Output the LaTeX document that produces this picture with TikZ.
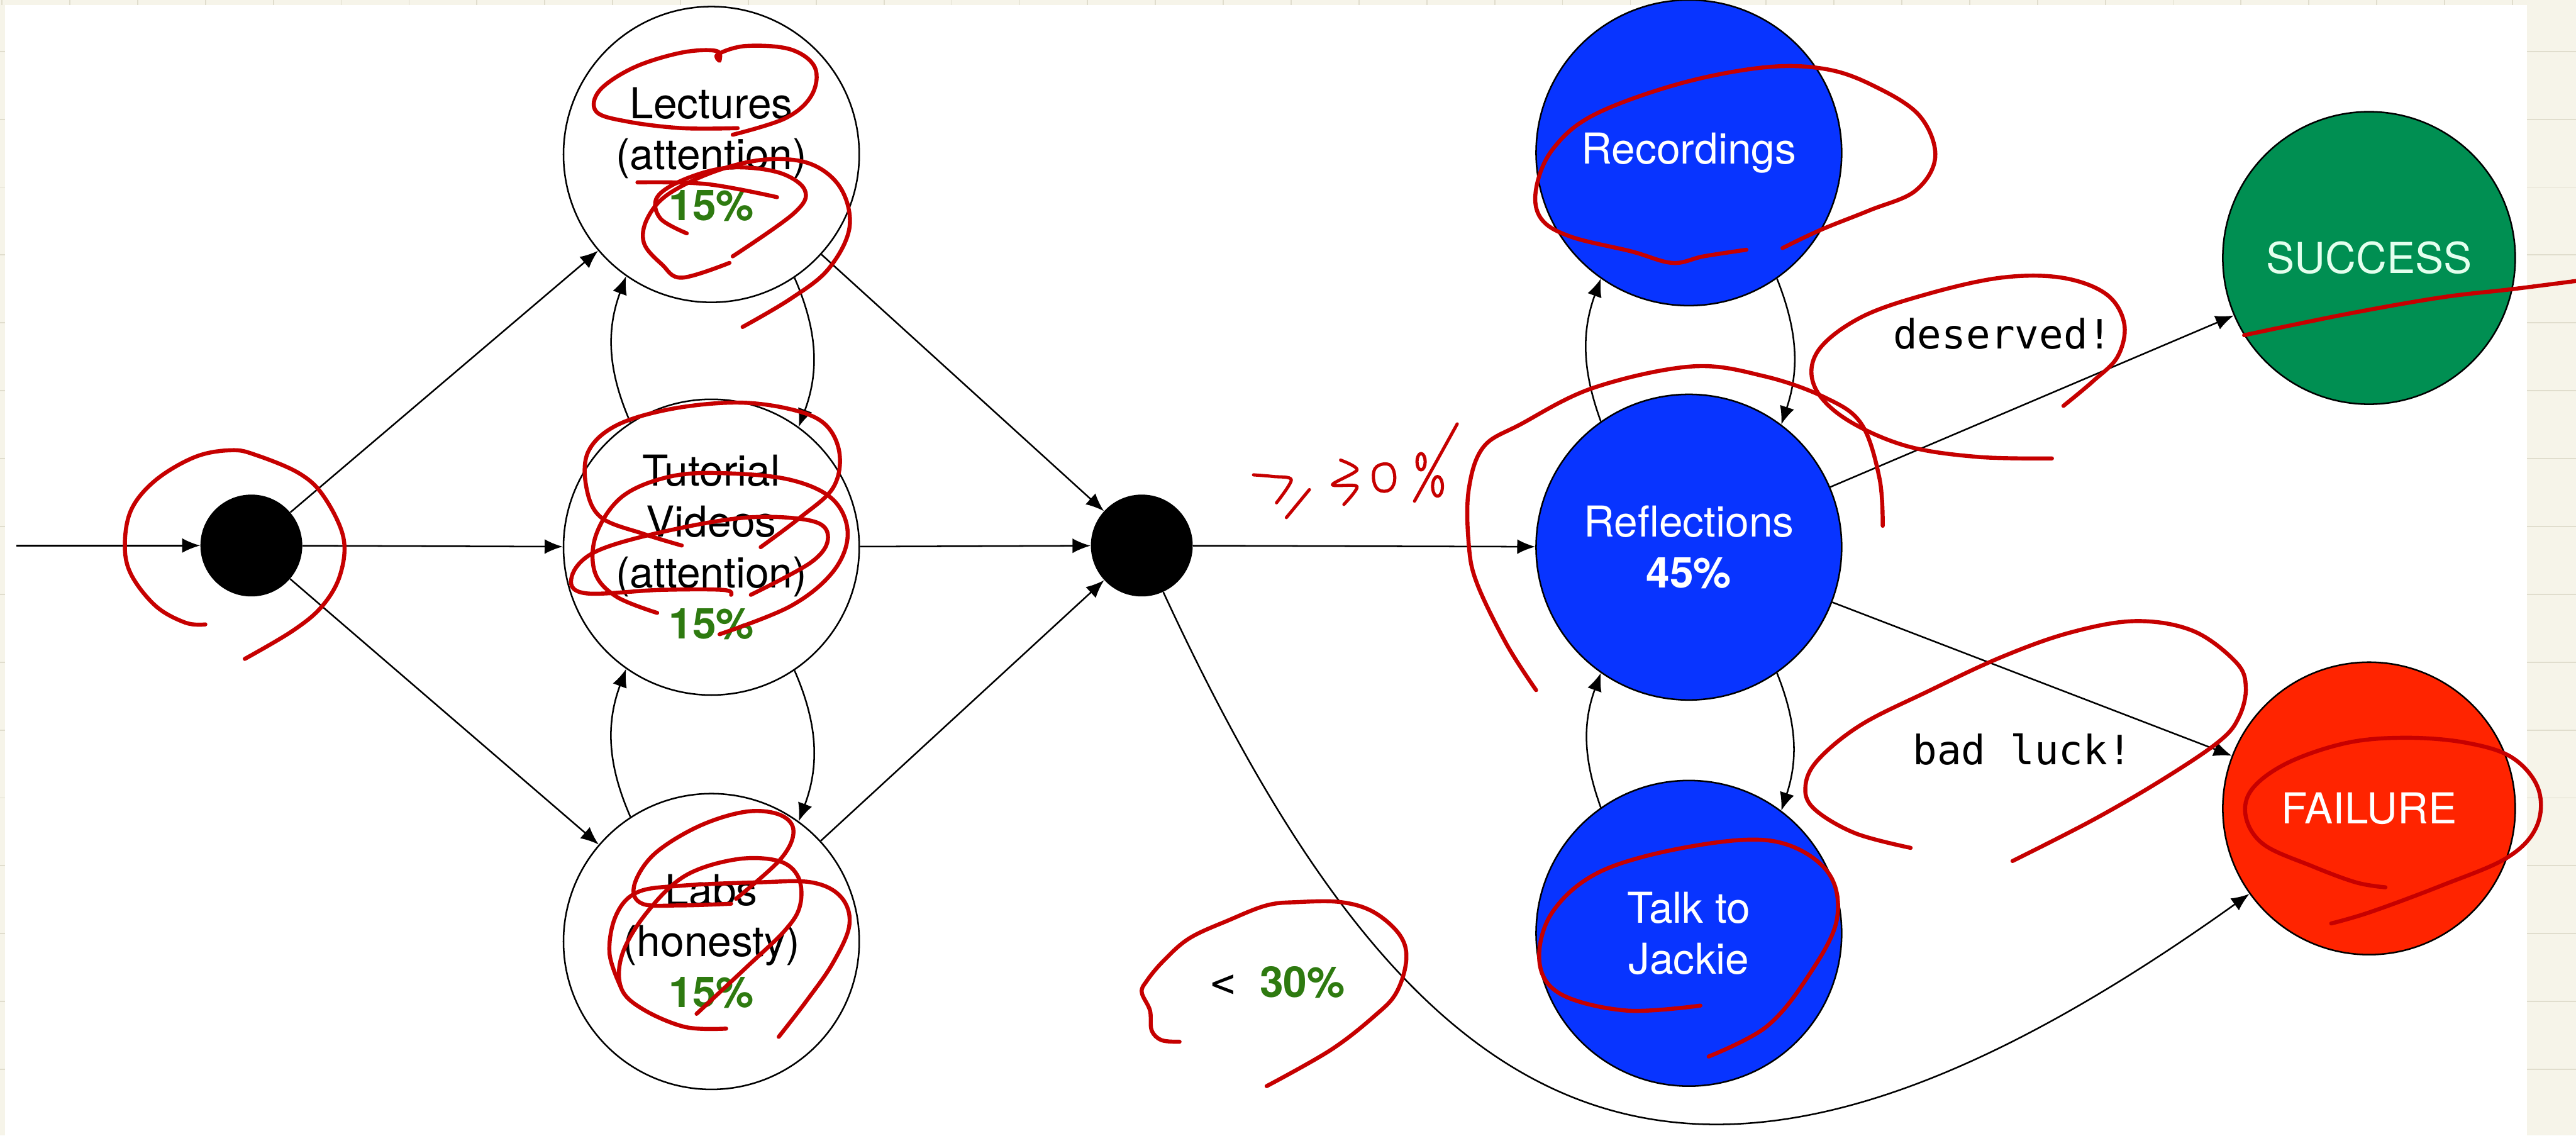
\documentclass[tikz,border=0pt]{standalone}
\usepackage{fontspec}
\usepackage{tikz}
\usetikzlibrary{arrows.meta, positioning, calc}

\newfontfamily\helv{TeX Gyre Heros}
\newfontfamily\codefont{DejaVu Sans Mono}

\definecolor{paper}{RGB}{246,244,233}
\definecolor{paperline}{RGB}{224,221,205}
\definecolor{stateblue}{RGB}{8,52,255}
\definecolor{successgreen}{RGB}{0,143,82}
\definecolor{failred}{RGB}{255,36,0}
\definecolor{pctgreen}{RGB}{46,122,16}
\definecolor{mintwhite}{RGB}{228,255,238}
\definecolor{pen}{RGB}{198,0,0}

\tikzset{
  state/.style={circle, draw=black, line width=1.1pt, fill=white, minimum size=72mm,
    inner sep=0pt, align=center, font=\helv\fontsize{29.5}{35.3}\selectfont},
  bluestate/.style={state, fill=stateblue, text=white, minimum size=74.4mm},
  endstate/.style={state, minimum size=71.2mm},
  dot/.style={circle, fill=black, minimum size=24.8mm, inner sep=0pt},
  arr/.style={-{Latex[length=4.4mm, width=3.6mm]}, line width=1.1pt},
  lbl/.style={font=\codefont\fontsize{28}{34}\selectfont},
  scribble/.style={pen, line width=2.8pt, line cap=round, line join=round},
}
\newcommand{\greenpct}[1]{{\color{pctgreen}\bfseries #1\%}}

\begin{document}
\begin{tikzpicture}[x=0.4mm, y=-0.4mm]
  \useasboundingbox (0,0) rectangle (1568,691);

  % Notebook paper behind the sheet
  \fill[paper] (0,0) rectangle (1568,691);
  \foreach \k in {0,...,16}
    \draw[paperline, line width=0.8pt] (1538,{31.3+41.3*\k}) -- (1568,{31.3+41.3*\k});
  \foreach \k in {0,...,16}
    \draw[paperline, line width=0.8pt] (0,{31.3+41.3*\k}) -- (3,{31.3+41.3*\k});
  \foreach \k in {0,...,37}
    \draw[paperline, line width=0.8pt] ({1.2+41.3*\k},0) -- ({1.2+41.3*\k},3);
  \fill[white] (3,3) rectangle (1538,691);

  % Entry and the three activities
  \coordinate (in) at (10,332);
  \node[dot] (start) at (153,332) {};
  \node[state] (lec) at (433,94) {Lectures\\(attention)\\\greenpct{15}};
  \node[state] (tut) at (433,333) {Tutorial\\Videos\\(attention)\\\greenpct{15}};
  \node[state] (lab) at (433,573) {Labs\\(honesty)\\\greenpct{15}};
  \node[dot] (mid) at (695,332) {};

  % Second stage
  \node[bluestate] (rec) at (1028,93) {Recordings};
  \node[bluestate] (refl) at (1028,333) {Reflections\\{\bfseries 45\%}};
  \node[bluestate] (talk) at (1028,568) {Talk to\\Jackie};

  % Outcomes
  \node[endstate, fill=successgreen, text=mintwhite] (succ) at (1442,157) {SUCCESS};
  \node[endstate, fill=failred, text=white] (fail) at (1442,492) {FAILURE};

  % Connectors
  \draw[arr] (in) -- (start);
  \draw[arr] (start) -- (lec);
  \draw[arr] (start) -- (tut);
  \draw[arr] (start) -- (lab);
  \draw[arr] (lec) -- (mid);
  \draw[arr] (tut) -- (mid);
  \draw[arr] (lab) -- (mid);
  \draw[arr] (tut.123) to[bend left=22] (lec.235);
  \draw[arr] (lec.-56) to[bend left=22] (tut.54);
  \draw[arr] (lab.123) to[bend left=22] (tut.235);
  \draw[arr] (tut.-56) to[bend left=22] (lab.54);
  \draw[arr] (mid) -- (refl);
  \draw[arr] (mid) .. controls (866,702) and (1029,787) .. (fail);
  \draw[arr] (refl.125) to[bend left=20] (rec.235);
  \draw[arr] (rec.-55) to[bend left=20] (refl.53);
  \draw[arr] (talk.125) to[bend left=20] (refl.235);
  \draw[arr] (refl.-55) to[bend left=20] (talk.53);
  \draw[arr] (refl) -- (succ);
  \draw[arr] (refl) -- (fail);

  % Labels
  \node[lbl] (deserved) at (1219,203) {deserved!};
  \node[lbl] (badluck) at (1231,456) {bad luck!};
  \node[anchor=base west, inner sep=0pt] (cutoff) at (737,607)
    {{\codefont\fontsize{28}{34}\selectfont <\ }{\helv\fontsize{29.5}{35.3}\selectfont\greenpct{30}}};

  % Red pen marks
  \draw[scribble] plot[smooth, tension=0.6] coordinates {(125,380) (113,379) (95,369) (80,350) (76,332) (80,310) (95,292) (119,278) (141,274) (156,277) (182,288) (197,302) (209,327) (207,350) (196,369) (178,384) (149,401)};
  \draw[scribble] plot[smooth, tension=0.6] coordinates {(449,78) (415,78) (382,74) (363,68) (365,55) (386,41) (415,32) (436,31) (438,37) (437,33) (454,28) (481,30) (496,41) (494,58) (478,72) (446,82)};
  \draw[scribble] plot[smooth, tension=0.6] coordinates {(388,111) (430,112) (473,120)};
  \draw[scribble] plot[smooth, tension=0.6] coordinates {(418,142) (402,133) (400,120) (417,109) (444,102) (474,105) (490,116) (483,130) (446,156)};
  \draw[scribble] plot[smooth, tension=0.6] coordinates {(444,160) (415,169) (403,161) (392,148) (394,133) (407,118) (436,104) (467,97) (494,100) (512,115) (517,139) (504,164) (481,182) (452,199)};
  \draw[scribble] plot[smooth, tension=0.6] coordinates {(415,332) (392,325) (366,315) (357,297) (358,275) (375,259) (408,249) (448,245) (481,249) (502,258) (511,276) (507,297) (487,315) (463,333)};
  \draw[scribble] plot[smooth, tension=0.6] coordinates {(400,373) (375,363) (362,348) (363,325) (379,302) (408,290) (441,288) (481,292) (507,304) (516,325) (507,348) (481,369) (438,386)};
  \draw[scribble] plot[smooth, tension=0.6] coordinates {(445,362) (440,359) (402,359) (356,361) (348,351) (362,336) (402,324) (454,315) (494,317) (504,327) (494,342) (457,362)};
  \draw[scribble] plot[smooth, tension=0.6] coordinates {(445,550) (415,551) (391,550) (386,539) (398,520) (425,503) (454,494) (475,496) (483,506) (475,523) (448,547)};
  \draw[scribble] plot[smooth, tension=0.6] coordinates {(442,626) (417,625) (391,614) (378,601) (379,580) (394,555) (417,533) (448,523) (474,524) (486,534) (487,551) (478,566) (454,589) (424,617)};
  \draw[scribble] plot[smooth, tension=0.6] coordinates {(378,601) (371,580) (375,557) (388,543) (415,539) (461,537) (494,537) (512,546) (517,563) (507,586) (491,609) (474,631)};
  \draw[scribble] plot[smooth, tension=0.6] coordinates {(718,634) (707,633) (701,627) (700,615) (695,604) (698,597) (708,585) (724,571) (748,560) (771,551) (790,549) (816,549) (836,555) (852,569) (856,584) (850,604) (837,618) (810,639) (771,661)};
  % handwritten >30%
  \draw[scribble, line width=2.2pt] plot[smooth, tension=0.5] coordinates {(763,289) (775,290) (786,292) (777,306)};
  \draw[scribble, line width=2.2pt] (783,315) -- (797,298);
  \draw[scribble, line width=2.2pt] plot[smooth, tension=0.5] coordinates {(816,280) (826,286) (811,295) (826,296) (818,307)};
  \draw[scribble, line width=2.2pt] plot[smooth cycle, tension=0.7] coordinates {(838,284) (846,283) (849,291) (846,298) (839,298) (836,291)};
  \draw[scribble, line width=2.2pt] (861,305) -- (887,258);
  \draw[scribble, line width=2.2pt] (865,281) ellipse (2.5 and 5);
  \draw[scribble, line width=2.2pt] (875,296) ellipse (3 and 6);
  % second stage marks
  \draw[scribble] plot[smooth, tension=0.6] coordinates {(1063,152) (1037,156) (1018,160) (993,153) (956,144) (938,133) (935,115) (945,91) (970,70) (1022,51) (1074,41) (1111,42) (1140,52) (1168,70) (1178,95) (1166,116) (1138,128) (1108,140) (1085,151)};
  \draw[scribble] plot[smooth, tension=0.6] coordinates {(935,420) (917,392) (899,355) (894,331) (894,298) (903,272) (926,258) (970,236) (1030,223) (1074,229) (1111,242) (1133,258) (1144,291) (1146,320)};
  \draw[scribble] plot[smooth, tension=0.6] coordinates {(1035,612) (990,615) (950,605) (937,585) (945,555) (975,530) (1030,515) (1080,512) (1112,530) (1118,560) (1100,595) (1075,625) (1040,643)};
  \draw[scribble] plot[smooth, tension=0.6] coordinates {(1249,279) (1203,278) (1159,271) (1122,254) (1104,234) (1107,213) (1133,193) (1173,179) (1218,169) (1255,169) (1282,179) (1293,197) (1289,217) (1274,232) (1256,247)};
  \draw[scribble] plot[smooth, tension=0.6] coordinates {(1163,516) (1129,507) (1104,492) (1099,478) (1107,462) (1133,441) (1173,421) (1218,400) (1260,385) (1300,378) (1335,384) (1361,403) (1367,418) (1363,436) (1351,451) (1317,474) (1274,499) (1225,524)};
  \draw[scribble] plot[smooth, tension=0.6] coordinates {(1366,204) (1429,191) (1486,181) (1529,176) (1568,171)};
  \draw[scribble] plot[smooth, tension=0.6] coordinates {(1452,540) (1434,537) (1407,527) (1378,514) (1367,497) (1371,480) (1393,464) (1429,452) (1465,449) (1501,452) (1529,461) (1545,480) (1544,503) (1526,522) (1486,539) (1443,555) (1419,562)};
\end{tikzpicture}
\end{document}
